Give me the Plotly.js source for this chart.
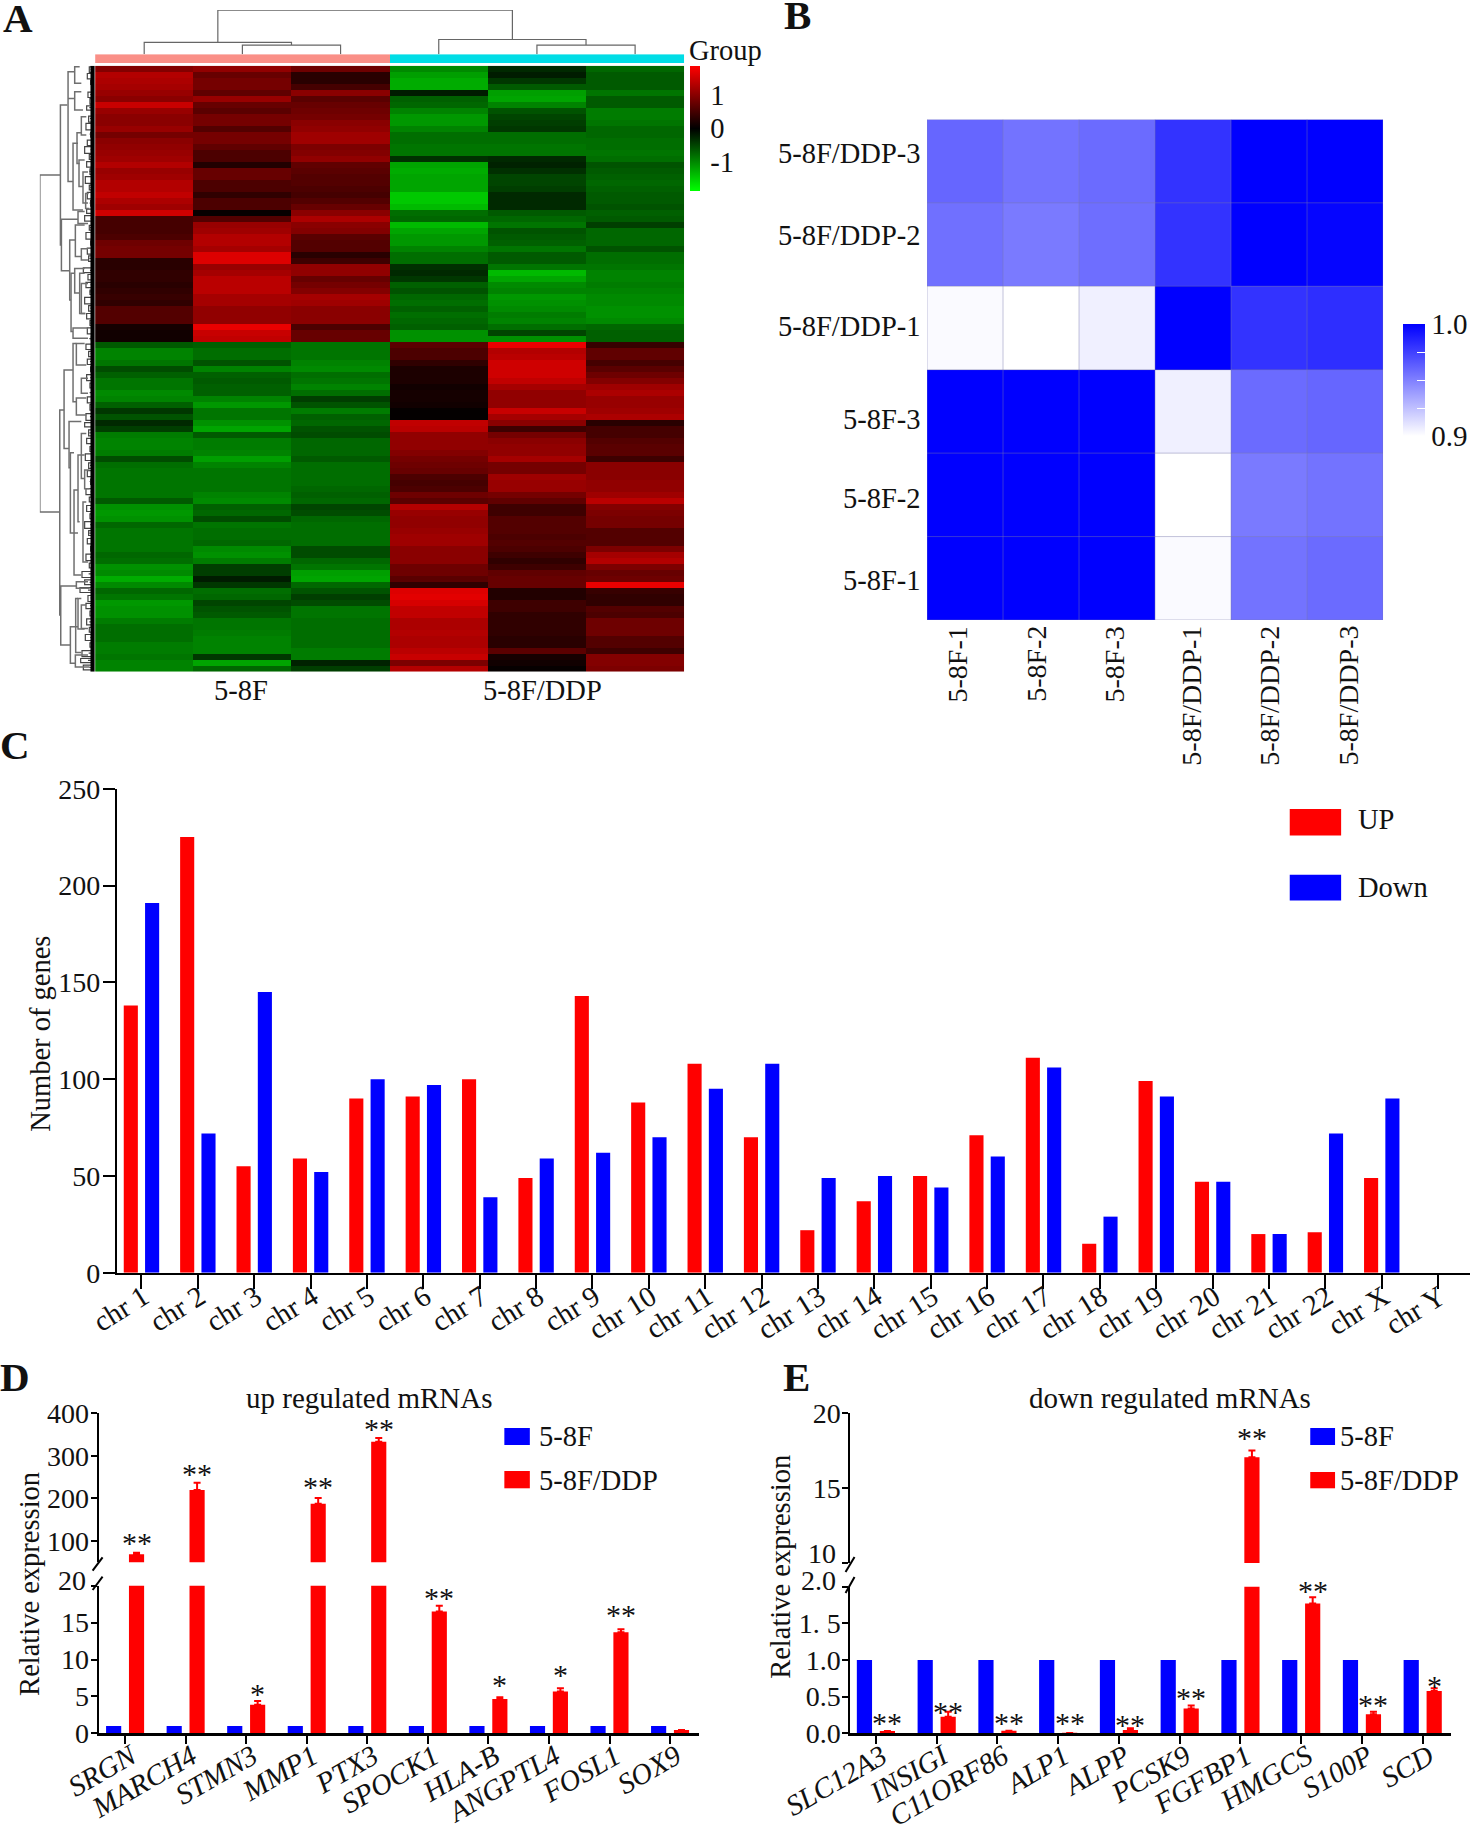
<!DOCTYPE html>
<html>
<head>
<meta charset="utf-8">
<script src="https://cdn.plot.ly/plotly-3.0.1.min.js"></script>
<style>body{margin:0;background:#fff}</style>
</head>
<body>
<div id="chart" style="width:1476px;height:1825px"></div>
<script>
// panel A: heatmap rows top to bottom, one array per sample column
var a1 = [.95,1.3,1.25,1.2,1.1,1.0,1.45,1.1,1.0,1.0,1.1,.85,1.0,1.05,1.1,1.15,1.3,1.1,1.15,1.3,1.3,1.4,1.25,1.15,1.5,.5,
  .5,.5,.55,.8,.85,.85,.3,.3,.35,.35,.3,.35,.4,.35,.6,.6,.6,.15,.12,.12,-.65,-.95,-.95,-.85,-.55,
  -.7,-.85,-.85,-1.0,-.95,-.7,-.4,-.6,-.3,-.45,-.9,-.95,-.95,-.9,-.55,-.8,-.85,-.85,-.85,-.85,-.85,-.65,-1.05,-1.1,-1.05,-.75,
  -.85,-.85,-.85,-.85,-.75,-.8,-1.05,-1.0,-1.25,-1.0,-.75,-.85,-1.1,-1.05,-1.05,-.9,-.8,-.8,-.8,-.9,-.9,-.85,-.95,-.95];
var a2 = [1.05,.75,.85,.85,.7,1.1,.75,.65,.85,.85,.6,.85,.85,.7,.55,.55,.25,.75,.75,.55,.55,.35,.55,.55,.05,.6,
  1.1,1.15,1.3,1.3,1.2,1.6,1.6,1.1,1.2,1.35,1.35,1.35,1.2,1.2,1.05,1.05,1.05,1.7,1.45,1.4,-.7,-.8,-.8,-.6,-.95,
  -.7,-.65,-.7,-.7,-.95,-1.1,-.85,-.85,-1.05,-1.2,-.65,-.9,-.9,-.95,-1.15,-.95,-.85,-.85,-.85,-.85,-.95,-1.0,-.7,-.75,-.55,-.85,
  -.8,-.8,-.75,-1.0,-1.05,-.9,-.45,-.45,-.2,-.4,-.8,-.75,-.5,-.6,-.65,-.85,-.85,-.9,-.95,-.95,-.95,-.4,-1.2,-.75];
var a3 = [.8,.3,.3,.5,1.0,.65,.75,.8,.85,1.0,1.05,1.15,1.15,.9,.95,1.05,.7,.65,.6,.6,.55,.5,.6,.75,1.0,1.25,
  1.0,.95,.65,.6,.6,.3,.45,1.05,1.05,.75,.85,.95,1.2,1.15,1.0,1.0,1.0,.55,.75,.75,-.85,-.85,-.85,-.95,-1.0,
  -.8,-.85,-.95,-.8,-.45,-.6,-.9,-.7,-.75,-.6,-.55,-.75,-.75,-.75,-.65,-.8,-.8,-.8,-.8,-.75,-.7,-.75,-.5,-.55,-.75,-.8,
  -.8,-.8,-.8,-.55,-.55,-.75,-.85,-1.15,-1.2,-.75,-.6,-.45,-.55,-.85,-.85,-.8,-.8,-.8,-.8,-.8,-.9,-.9,-.25,-.45];
var a4 = [-1.0,-1.15,-1.25,-1.25,-.2,-.7,-.75,-.95,-1.1,-1.1,-.95,-.8,-.8,-.85,-.85,-.35,-1.2,-1.25,-1.2,-1.2,-1.2,-1.45,-1.45,-1.35,-.8,-.75,
  -1.35,-1.2,-1.1,-1.1,-.95,-.8,-.8,-.35,-.3,-.4,-.7,-.6,-.75,-.8,-.7,-.8,-.75,-.7,-1.05,-1.05,.65,.55,.55,.35,.2,
  .2,.2,.12,.15,.15,.12,.03,.03,1.4,1.35,1.05,1.05,1.05,.95,.85,.8,.75,.55,.5,.55,.8,.65,1.3,1.1,1.05,1.05,
  1.1,1.15,1.15,1.0,1.0,1.0,.8,.8,.65,.35,1.6,1.65,1.55,1.4,1.4,1.25,1.25,1.3,1.25,1.25,1.35,1.45,.9,1.3];
var a5 = [-.3,-.2,-.4,-.65,-1.15,-1.2,-.95,-.6,-.5,-.45,-.4,-.8,-.8,-.85,-.85,-.3,-.25,-.35,-.5,-.5,-.45,-.3,-.3,-.3,-.65,-.75,
  -.85,-.6,-.65,-.7,-.85,-.65,-.65,-.85,-1.35,-1.2,-1.0,-.95,-1.1,-1.05,-1.0,-.9,-.95,-.8,-.5,-1.05,1.7,1.3,1.35,1.5,1.5,
  1.5,1.4,1.2,1.05,1.05,1.05,1.45,1.2,1.0,.45,.85,1.0,1.05,1.05,1.2,.85,.85,1.15,1.1,1.1,.85,.7,.45,.45,.6,.6,
  .6,.55,.6,.55,.45,.35,.45,.7,.75,.75,.25,.25,.45,.45,.35,.35,.35,.35,.3,.3,.65,.15,.12,.04];
var a6 = [-.75,-.65,-.65,-.65,-.85,-.65,-.65,-.9,-.9,-.85,-.75,-.75,-.8,-.8,-.85,-.8,-.6,-.65,-.7,-.75,-.7,-.65,-.65,-.6,-.7,-.65,
  -.45,-.75,-.75,-.75,-.6,-.8,-.8,-.85,-.95,-.95,-.9,-.95,-1.0,-1.0,-1.05,-1.05,-1.0,-.75,-.7,-.7,.4,.7,.7,.5,.65,
  .8,.95,1.15,1.25,1.1,1.1,1.15,1.25,.3,.5,.5,.6,.65,.65,.45,1.0,1.0,1.0,1.05,1.05,1.15,1.35,.95,.9,.85,.85,
  .6,.6,.6,.9,1.2,1.3,.9,.75,.8,1.7,.4,.35,.35,.6,.55,.8,.8,.8,.6,.6,.45,.95,.95,.9];
var groupRow = [0, 0, 0, 1, 1, 1];

// column dendrogram: height of each merge, leaf positions are the sample columns
var topH =    [1.0, .27, .208, .333, .208];
var topX1 =   [.75, 0, 1, 3, 4];
var topX2 =   [3.75, 1.5, 2, 4.5, 5];
var topEnd1 = [.27, 0, 0, 0, 0];
var topEnd2 = [.333, .208, 0, .208, 0];

// row dendrogram: main merges [height, upper row, lower row, height reached on each side]
var branchH =   [165,103,100,80,80,60,60,65,40,53,47,35,27,50,75,58,40,71,60,45,40,65,92,65,40,55,55,77,73,62,50,40,35,30,105,102,55,73,57,50,40,58];
var branchTop = [17.7,6.05,25.1,.5,4.95,-.34,3.83,12.44,8,10.66,15.2,17.2,20.8,23.8,28.55,26.05,30,34.1,33.3,34.1,35.8,43.2,50.2,45.8,51.6,54.9,45.8,58.8,64,70.2,64.4,60.8,72.2,66.9,56.9,86.2,85.5,93,88.3,88.3,89.4,97.7];
var branchBot = [73.9,29.4,33.66,18.8,4.95,2.44,6.88,23.55,11.05,15.8,19.65,22.4,23.3,25.8,38.55,31.3,31.9,43.8,37.4,40.8,40.8,44.94,63.3,55.5,54.1,57.7,49.4,66.5,77.4,84.4,75.5,68.3,82.2,70,91.05,96.05,86.6,99.1,97.3,93.4,93.3,99.7];
var branchEnd1 = [103,82,50,60,60,45,40,50,25,40,30,20,18,30,58,30,20,60,30,30,20,20,65,55,20,25,30,40,62,50,30,25,25,15,92,55,20,50,50,40,25,20];
var branchEnd2 = [105,100,75,65,60,40,35,35,25,45,35,20,16,20,71,40,20,65,45,28,28,20,77,55,20,25,25,73,50,40,45,30,20,15,102,73,15,58,40,30,20,15];

// small merges next to the leaves of the row dendrogram
var leafTop = [-.3,.8,1.9,3.9,5,6.2,7.9,9.1,10.6,11.9,13,14.3,15.5,16.7,18,19.4,20.6,22,23.4,24.5,26.1,27.3,28.7,29.9,31.2,33.2,34.3,35.6,36.9,38.1,39.5,40.8,42,43.2,44.6,45.9,47.1,48.4,49.7,51,52.4,54.7,56,57.5,59,60.2,61.6,63,64.2,65.7,67,68.4,70,71.4,72.8,74.2,75.5,77,78.3,79.6,80.9,82.4,83.8,85.2,86.5,87.8,89.1,90.4,91.7,93.1,94.3,95.7,97,98.3,99.4];
var leafBot = [.6,1.7,2.6,4.8,5.9,6.9,8.9,10.2,11.4,12.8,14.1,15.1,16.4,17.6,19.1,20.2,21.7,22.9,24.1,25.4,26.9,28.4,29.4,30.9,32.1,34,35.2,36.5,37.6,39.2,40.4,41.7,42.8,44.2,45.2,46.8,48,49.3,50.5,52,53.2,55.7,56.9,58.6,59.7,61.2,62.5,63.8,65.3,66.6,68,69.3,71,72.2,73.8,75,76.6,77.8,79.2,80.4,82,83.2,84.8,86,87.3,88.8,90,91.2,92.7,93.9,95.3,96.4,98,99,100.2];
var leafH =   [16,22,12,20,14,24,18,26,12,22,30,16,24,14,28,16,22,12,24,30,16,26,12,22,18,34,20,26,14,30,18,24,14,22,10,26,18,22,12,24,14,22,14,26,30,18,24,14,28,18,22,12,26,16,24,14,30,18,22,12,26,16,38,30,44,20,26,14,24,16,28,14,38,42,34];
// tiniest twigs, the fuzz beside the black leaf band
var twigRow = [.1,1.2,2.2,3.1,4.3,5.4,6.5,7.4,8.3,9.6,10.9,12.3,13.5,14.7,15.9,17.1,18.5,19.8,21.1,22.4,23.7,25,26.5,27.8,29,30.4,31.6,32.7,33.6,34.7,36,37.2,38.6,39.9,41.2,42.4,43.7,45,46.3,47.5,48.8,50.1,51.5,52.8,54,55.2,56.4,58,59.3,60.7,62,63.4,64.7,66.1,67.5,68.8,70.5,71.8,73.3,74.6,76,77.4,78.7,80,81.4,82.8,84.2,85.6,86.9,88.2,89.5,90.8,92.2,93.5,94.8,96,97.4,98.6,99.8];
var twigH =   [12,9,14,10,13,9,16,11,14,10,15,9,12,14,10,16,9,13,11,15,9,12,14,10,13,9,16,11,14,10,12,15,9,13,11,14,10,16,9,12,14,10,13,9,15,11,12,14,10,16,9,13,11,14,10,15,12,9,14,10,13,16,9,12,14,10,18,15,20,12,14,10,16,9,13,11,18,20,16];

// panel B: sample correlation, rows listed bottom to top
var corrX = ['5-8F-1','5-8F-2','5-8F-3','5-8F/DDP-1','5-8F/DDP-2','5-8F/DDP-3'];
var corrY = ['5-8F-1','5-8F-2','5-8F-3','5-8F/DDP-1','5-8F/DDP-2','5-8F/DDP-3'];
var corrF1 = [1, 1, 1, .902, .955, .958];
var corrF2 = [1, 1, 1, .9, .952, .955];
var corrF3 = [1, 1, 1, .906, .958, .96];
var corrD1 = [.902, .9, .906, 1, .98, .982];
var corrD2 = [.956, .952, .957, .98, 1, .998];
var corrD3 = [.96, .955, .958, .98, 1, 1];

// panel C
var chrNames = ['chr 1','chr 2','chr 3','chr 4','chr 5','chr 6','chr 7','chr 8','chr 9','chr 10','chr 11','chr 12','chr 13','chr 14','chr 15','chr 16','chr 17','chr 18','chr 19','chr 20','chr 21','chr 22','chr X','chr Y'];
var chrUp =   [138,225,55,59,90,91,100,49,143,88,108,70,22,37,50,71,111,15,99,47,20,21,49,0];
var chrDown = [191,72,145,52,100,97,39,59,62,70,95,108,49,50,44,60,106,29,91,47,20,72,90,0];

// panel D
var upGenes = ['SRGN','MARCH4','STMN3','MMP1','PTX3','SPOCK1','HLA-B','ANGPTL4','FOSL1','SOX9'];
var upCtrl = [1,1,1,1,1,1,1,1,1,1];
var upDdp =  [69,220,3.88,187.5,333,16.5,4.65,5.65,13.7,.45];
var upErr =  [3.5,17,.5,13.5,9,.8,.25,.45,.4,0];
var upStars =  ['**','**','*','**','**','**','*','*','**',''];
var upStarY =  [102.3,262.7,5.65,233.8,368,18.7,6.95,8.27,16.35,0];
var upStarTop = [true,true,false,true,true,false,false,false,false,false];

// panel E
var downGenes = ['SLC12A3','INSIGI','C11ORF86','ALP1','ALPP','PCSK9','FGFBP1','HMGCS','S100P','SCD'];
var downCtrl = [1,1,1,1,1,1,1,1,1,1];
var downDdp =  [.03,.227,.035,.005,.045,.34,17.06,1.77,.26,.578];
var downErr =  [0,.068,0,0,.025,.04,.46,.085,.035,.036];
var downStars = ['**','**','**','**','**','**','**','**','**','*'];
var downStarY = [.168,.318,.168,.168,.15,.518,18.5,1.98,.423,.682];
var downStarTop = [false,false,false,false,false,false,true,false,false,false];

var serif = 'Liberation Serif, Times New Roman, serif';
var W = 1476, H = 1825;
function xDom(a, b) { return [a / W, b / W]; }
function yDom(top, bot) { return [1 - bot / H, 1 - top / H]; }

function hidden(domain, range, anchor) {
  return {domain: domain, range: range, visible: false, anchor: anchor, fixedrange: true};
}

var heatZ = [];
for (var r = 0; r < a1.length; r++) {
  heatZ.push([a1[r], a2[r], a3[r], a4[r], a5[r], a6[r]]);
}

// dendrogram paths
var topXs = [], topYs = [];
for (var i = 0; i < topH.length; i++) {
  topXs.push(topX1[i], topX1[i], topX2[i], topX2[i], null);
  topYs.push(topEnd1[i], topH[i], topH[i], topEnd2[i], null);
}
var rowXs = [], rowYs = [];
for (var i = 0; i < branchH.length; i++) {
  rowXs.push(branchEnd1[i], branchH[i], branchH[i], branchEnd2[i], null);
  rowYs.push(branchTop[i], branchTop[i], branchBot[i], branchBot[i], null);
}
var leafXs = [], leafYs = [];
for (var i = 0; i < leafH.length; i++) {
  leafXs.push(6, leafH[i], leafH[i], 6, null);
  leafYs.push(leafTop[i], leafTop[i], leafBot[i], leafBot[i], null);
}
for (var i = 0; i < twigH.length; i++) {
  leafXs.push(6, twigH[i], null);
  leafYs.push(twigRow[i], twigRow[i], null);
}

var traces = [
  {type: 'heatmap', z: heatZ, x: [0,1,2,3,4,5], xaxis: 'x', yaxis: 'y', zmin: -1.85, zmax: 1.85,
   colorscale: [[0,'#00ff00'],[.5,'#000000'],[1,'#ff0000']],
   colorbar: {x: 692.5 / W, xanchor: 'left', xpad: 0, ypad: 0, y: 1 - 128.3 / H, yanchor: 'middle',
     lenmode: 'pixels', len: 125.3, thicknessmode: 'pixels', thickness: 10, outlinewidth: 0,
     tickvals: [1,0,-1], ticktext: ['1','0','-1'], ticks: 'outside', ticklen: 5, tickcolor: 'rgba(0,0,0,0)',
     tickfont: {family: serif, size: 28.5, color: '#111'}}},
  {type: 'heatmap', z: [groupRow], x: [0,1,2,3,4,5], xaxis: 'x2', yaxis: 'y2', showscale: false,
   zmin: 0, zmax: 1, colorscale: [[0,'#fa8f87'],[1,'#00dde6']]},
  {type: 'scatter', mode: 'lines', x: topXs, y: topYs, xaxis: 'x3', yaxis: 'y3',
   line: {color: '#666', width: 1.2}, connectgaps: false},
  {type: 'scatter', mode: 'lines', x: leafXs, y: leafYs, xaxis: 'x4', yaxis: 'y4',
   line: {color: '#444', width: 1.2}, connectgaps: false},
  {type: 'scatter', mode: 'lines', x: [5,5], y: [-.5,100.5], xaxis: 'x4', yaxis: 'y4',
   line: {color: '#000', width: 5}},
  {type: 'scatter', mode: 'lines', x: rowXs, y: rowYs, xaxis: 'x4', yaxis: 'y4',
   line: {color: '#6f6f6f', width: 1.5}, connectgaps: false},

  {type: 'heatmap', z: [corrF1,corrF2,corrF3,corrD1,corrD2,corrD3], x: corrX, y: corrY, xaxis: 'x5', yaxis: 'y5',
   zmin: .9, zmax: 1, colorscale: [[0,'#ffffff'],[1,'#0000ff']],
   colorbar: {x: 1408.5 / W, xanchor: 'left', xpad: 0, ypad: 0, y: 1 - 380 / H, yanchor: 'middle',
     lenmode: 'pixels', len: 112, thicknessmode: 'pixels', thickness: 22, outlinewidth: 0,
     tickvals: [.9,.925,.95,.975,1], ticktext: ['0.9','','','','1.0'],
     ticks: 'inside', ticklen: 8, tickcolor: '#fff',
     tickfont: {family: serif, size: 29, color: '#111'}}},

  {type: 'bar', x: chrNames, y: chrUp, name: 'UP', xaxis: 'x6', yaxis: 'y6', marker: {color: '#ff0000'}},
  {type: 'bar', x: chrNames, y: chrDown, name: 'Down', xaxis: 'x6', yaxis: 'y6', marker: {color: '#0000ff'}}
];

function addBroken(genes, ctrl, ddp, err, xa, yLow, yUp) {
  [yLow, yUp].forEach(function (ya) {
    traces.push({type: 'bar', x: genes, y: ctrl, name: '5-8F', xaxis: xa, yaxis: ya, marker: {color: '#0000ff'}});
    traces.push({type: 'bar', x: genes, y: ddp, name: '5-8F/DDP', xaxis: xa, yaxis: ya, marker: {color: '#ff0000'},
      error_y: {type: 'data', symmetric: false, array: err, color: '#ff0000', thickness: 2, width: 3.5}});
  });
}
addBroken(upGenes, upCtrl, upDdp, upErr, 'x7', 'y7', 'y8');
addBroken(downGenes, downCtrl, downDdp, downErr, 'x8', 'y9', 'y10');

function txt(px, py, text, size, opt) {
  var a = {xref: 'paper', yref: 'paper', x: px / W, y: 1 - py / H, text: text, showarrow: false,
    xanchor: 'center', yanchor: 'middle', font: {family: serif, size: size, color: '#111'}};
  for (var k in (opt || {})) a[k] = opt[k];
  return a;
}
function swatch(x0, x1, y0, y1, color) {
  return {type: 'rect', xref: 'paper', yref: 'paper', x0: x0 / W, x1: x1 / W, y0: 1 - y0 / H, y1: 1 - y1 / H,
    fillcolor: color, line: {width: 0}};
}
function slash(x0, y0, x1, y1) {
  return {type: 'line', xref: 'paper', yref: 'paper', x0: x0 / W, x1: x1 / W, y0: 1 - y0 / H, y1: 1 - y1 / H,
    line: {color: '#000', width: 2}};
}

var annotations = [
  txt(18, 18, '<b>A</b>', 41), txt(801, 15, '<b>B</b>', 41), txt(15, 745, '<b>C</b>', 41),
  txt(15, 1377, '<b>D</b>', 41), txt(800, 1377, '<b>E</b>', 41),
  txt(690, 50, 'Group', 28.5, {xanchor: 'left'}),
  txt(242, 690, '5-8F', 28.5), txt(545, 690, '5-8F/DDP', 28.5),
  txt(40, 1034, 'Number of genes', 28.5, {textangle: -90}),
  txt(1362, 820, 'UP', 28.5, {xanchor: 'left'}), txt(1362, 887, 'Down', 28.5, {xanchor: 'left'}),
  txt(371, 1398, 'up regulated mRNAs', 29), txt(29, 1584, 'Relative expression', 28.5, {textangle: -90}),
  txt(539.4, 1436.7, '5-8F', 28.5, {xanchor: 'left'}), txt(539.4, 1480.7, '5-8F/DDP', 28.5, {xanchor: 'left'}),
  txt(1175, 1398, 'down regulated mRNAs', 29), txt(783, 1567, 'Relative expression', 28.5, {textangle: -90}),
  txt(1343.3, 1436, '5-8F', 28.5, {xanchor: 'left'}), txt(1343.3, 1480, '5-8F/DDP', 28.5, {xanchor: 'left'}),
  // tick labels pushed up by the axis breaks
  txt(88.7, 1580, '20', 28, {xanchor: 'right'}),
  txt(841, 1553, '10', 28, {xanchor: 'right'}), txt(841, 1580, '2.0', 28, {xanchor: 'right'})
];

// panel B labels sit unevenly against their cells in the reference
var corrLabelY = [580, 499, 419, 326, 235, 153.6];
var corrLabelX = [961.4, 1040, 1119, 1195.5, 1274, 1353];
corrY.forEach(function (name, n) {
  annotations.push(txt(927, corrLabelY[n], name, 28.5, {xanchor: 'right'}));
});
corrX.forEach(function (name, n) {
  annotations.push(txt(corrLabelX[n], 624, name, 28, {textangle: -90, yanchor: 'top'}));
});

function addStars(stars, starY, isTop, xa, yLow, yUp, offset) {
  stars.forEach(function (s, n) {
    if (!s) return;
    annotations.push({xref: xa, yref: isTop[n] ? yUp : yLow, x: n + offset, y: starY[n], text: s, showarrow: false,
      xanchor: 'center', yanchor: 'middle', yshift: -2, font: {family: serif, size: 30, color: '#111'}});
  });
}
addStars(upStars, upStarY, upStarTop, 'x7', 'y7', 'y8', .19);
addStars(downStars, downStarY, downStarTop, 'x8', 'y9', 'y10', .19);

var shapes = [
  swatch(1295, 1346.6, 809, 835.4, '#ff0000'), swatch(1295, 1346.6, 874.8, 900.4, '#0000ff'),
  swatch(506.4, 532, 1428, 1445, '#0000ff'), swatch(506.4, 532, 1471, 1488.3, '#ff0000'),
  swatch(1315.6, 1340.5, 1428, 1445, '#0000ff'), swatch(1315.6, 1340.5, 1472, 1488.3, '#ff0000'),
  slash(93, 1570.7, 103, 1557.3), slash(93, 1590, 103, 1576.7),
  slash(849, 1572, 858, 1557), slash(849, 1593, 858, 1577)
];
// thin cell borders of panel B
for (var i = 0; i <= corrX.length; i++) {
  shapes.push({type: 'line', xref: 'x5', yref: 'y5', x0: i - .5, x1: i - .5, y0: -.5, y1: 5.5,
    line: {color: 'rgba(120,120,170,.45)', width: 1}});
  shapes.push({type: 'line', xref: 'x5', yref: 'y5', x0: -.5, x1: 5.5, y0: i - .5, y1: i - .5,
    line: {color: 'rgba(120,120,170,.45)', width: 1}});
}

function valueAxis(domain, range, anchor, vals, text, standoff) {
  return {domain: domain, range: range, anchor: anchor, showgrid: false, zeroline: false, showline: true,
    linecolor: '#000', linewidth: 2, ticks: 'outside', ticklen: 6, tickwidth: 2, tickcolor: '#000',
    tickvals: vals, ticktext: text || vals.map(String), tickfont: {family: serif, size: 28, color: '#111'},
    ticklabelstandoff: standoff, fixedrange: true};
}
function geneAxis(domain, range, anchor, italic) {
  var font = {family: serif, size: 29, color: '#111'};
  if (italic) font.style = 'italic';
  return {domain: domain, range: range, anchor: anchor, type: 'category', showgrid: false, zeroline: false,
    showline: true, linecolor: '#000', linewidth: 3, ticks: 'outside', ticklen: 8, tickwidth: 2, tickcolor: '#000',
    tickangle: -30, tickfont: font, ticklabelstandoff: -16, ticklabelshift: 6, fixedrange: true};
}

var layout = {
  width: W, height: H, autosize: false, margin: {l: 0, r: 0, t: 0, b: 0},
  paper_bgcolor: '#fff', plot_bgcolor: '#fff', showlegend: false,
  barmode: 'group', bargap: .244, bargroupgap: .338,
  annotations: annotations, shapes: shapes,

  xaxis: hidden(xDom(95.5, 687), [-.5, 5.5], 'y'),
  yaxis: hidden(yDom(65.7, 671.7), [100.5, -.5], 'x'),
  xaxis2: hidden(xDom(95.5, 687), [-.5, 5.5], 'y2'),
  yaxis2: hidden(yDom(54.2, 62.9), [-.5, .5], 'x2'),
  xaxis3: hidden(xDom(95.5, 687), [-.5, 5.5], 'y3'),
  yaxis3: hidden(yDom(10.1, 54.2), [0, 1], 'x3'),
  xaxis4: hidden(xDom(40, 95), [165, 0], 'y4'),
  yaxis4: hidden(yDom(65.7, 671.7), [100.5, -.5], 'x4'),

  xaxis5: {domain: xDom(930.8, 1388.7), range: [-.5, 5.5], anchor: 'y5', type: 'category', showgrid: false,
    zeroline: false, showline: false, ticks: '', showticklabels: false, fixedrange: true},
  yaxis5: {domain: yDom(119.4, 620), range: [-.5, 5.5], anchor: 'x5', type: 'category', showgrid: false,
    zeroline: false, showline: false, ticks: '', showticklabels: false, fixedrange: true},

  xaxis6: geneAxis(xDom(117.3, 1475.7), [-.437, 23.56], 'y6', false),
  yaxis6: valueAxis(yDom(788.7, 1272.8), [0, 250], 'x6', [0,50,100,150,200,250], null, -3),

  xaxis7: geneAxis(xDom(99, 701.8), [-.4375, 9.477], 'y7', true),
  yaxis7: valueAxis(yDom(1585.7, 1733.3), [0, 20], 'x7', [0,5,10,15,20], ['0','5','10','15',''], -4),
  yaxis8: valueAxis(yDom(1413.3, 1562.3), [50, 400], 'x7', [100,200,300,400], null, -4),

  xaxis8: geneAxis(xDom(853.7, 1457), [-.423, 9.467], 'y9', true),
  yaxis9: valueAxis(yDom(1586.7, 1733.3), [0, 2], 'x8', [0,.5,1,1.5,2], ['0.0','0.5','1.0','1. 5',''], -4),
  yaxis10: valueAxis(yDom(1413.3, 1563), [10, 20], 'x8', [10,15,20], ['','15','20'], -4)
};
layout.xaxis6.tickfont.size = 29;
layout.xaxis6.ticklen = 14;
layout.xaxis6.tickangle = -32;
layout.xaxis6.ticklabelstandoff = -20;
layout.xaxis6.ticklabelshift = 2;
layout.yaxis6.ticklen = 12;
layout.xaxis6.linewidth = 2;

Plotly.newPlot('chart', traces, layout, {displayModeBar: false});
</script>
</body>
</html>
